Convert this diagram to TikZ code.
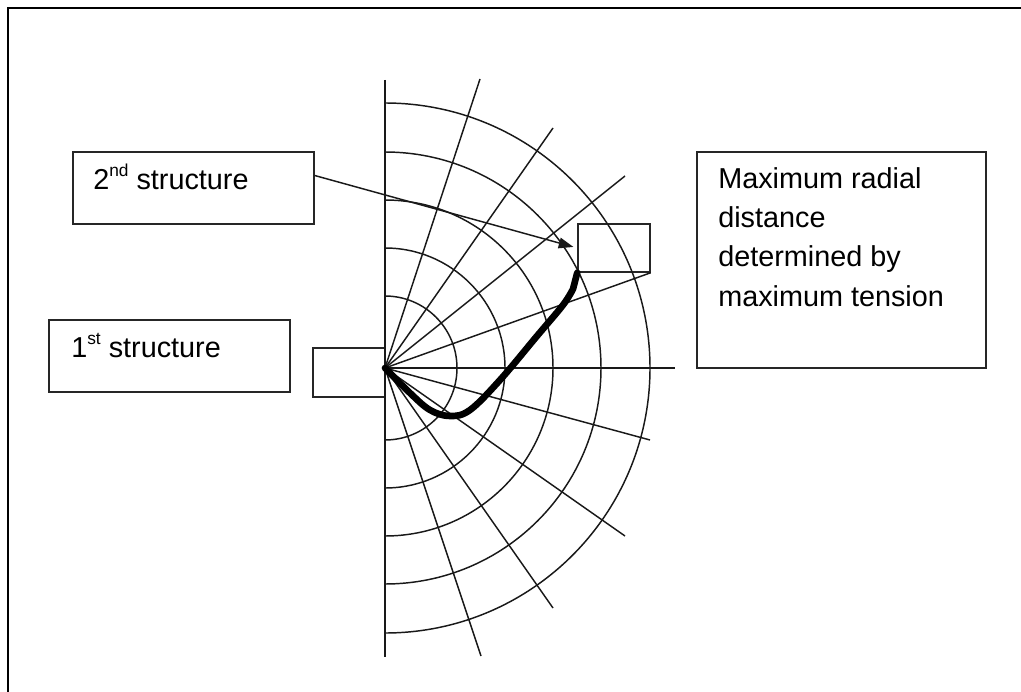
\documentclass[tikz,border=0pt]{standalone}
\usepackage{fontspec}
\setmainfont{Liberation Sans}
\usetikzlibrary{arrows.meta,calc}
\newcommand{\mysup}[1]{\raisebox{0.42em}{\fontsize{13}{13}\selectfont #1}}
\begin{document}
\begin{tikzpicture}[x=0.75pt,y=-0.75pt,
  thin line/.style={line width=1.1pt,black!90},
  box/.style={draw,line width=1.1pt,black!85,inner sep=0pt,minimum width=#1},
  txt/.style={inner sep=0pt,font=\fontsize{21.6}{29.5}\selectfont},
  curve/.style={line width=5pt,line cap=round,line join=round}]
\useasboundingbox (0,0) rectangle (1021,692);
% outer frame (only top and left edges visible)
\draw[line width=1.6pt] (8,692) -- (8,8) -- (1021,8);
\coordinate (O) at (385,368);
% boxes
\node[box=241pt*0.75,minimum height=72pt*0.75] (b2) at (193.5,188) {};
\node[box=241pt*0.75,minimum height=72pt*0.75] (b1) at (169.5,356) {};
\node[box=289pt*0.75,minimum height=216pt*0.75] (bm) at (841.5,260) {};
\node[box=72pt*0.75,minimum height=49pt*0.75] (sl) at (349,372.5) {};
\node[box=72pt*0.75,minimum height=48pt*0.75] (sb) at (614,248) {};
% texts
\node[txt,anchor=base west] (t2) at (93,189) {2\mysup{nd} structure};
\node[txt,anchor=base west] (t1) at (71,357) {1\mysup{st} structure};
\node[txt,anchor=north west,align=left] (tm) at (718,167)
  {Maximum radial\\distance\\determined by\\maximum tension};
% arcs
\foreach \r in {72,120,168,216,265}
  \draw[thin line] (O) ++(0,-\r) arc[start angle=-90,end angle=90,radius=\r];
% axis and rays
\coordinate (vt) at (385,80);
\coordinate (vb) at (385,657);
\draw[thin line] (vt) -- (vb);
\coordinate (r1) at (480,79);
\coordinate (r2) at (553,128);
\coordinate (r3) at (625,176);
\coordinate (r5) at (675,368);
\coordinate (r6) at (650,440);
\coordinate (r7) at (625,536);
\coordinate (r8) at (553,608);
\coordinate (r9) at (481,656);
\foreach \p in {r1,r2,r3,r5,r6,r7,r8,r9}
  \draw[thin line] (O) -- (\p);
\draw[thin line] (O) -- (sb.south east);
% arrow
\draw[thin line,-{Triangle[length=11pt,width=8pt]},shorten >=3pt]
  ($(b2.north east)!0.33!(b2.south east)$) -- (sb.west);
% thick curve
\draw[curve] plot[smooth,tension=0.6] coordinates
  {(385,368) (410,393) (430,410) (450,416) (470,410) (500,380) (537,336) (563,305) (573,289)}
  -- (sb.south west);
\end{tikzpicture}
\end{document}
